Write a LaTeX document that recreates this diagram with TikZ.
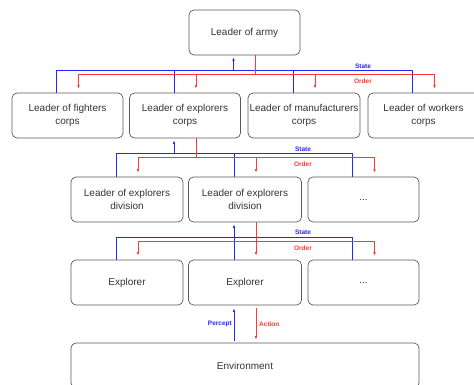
\documentclass[tikz,border=0pt]{standalone}
\usepackage{fontspec}
\setmainfont{Liberation Sans}
\usetikzlibrary{arrows.meta,calc}
\definecolor{stc}{rgb}{0.15,0.15,1}
\definecolor{odc}{rgb}{1,0.22,0.22}
\begin{document}
\begin{tikzpicture}[x=1pt,y=-1pt,
  box/.style={draw=black!65,line width=0.7pt,rounded corners=5pt,align=center,
    font=\fontsize{10}{13.5}\selectfont,text=black!80,inner sep=0pt,minimum height=45pt},
  stl/.style={draw=stc,line width=0.7pt},
  odl/.style={draw=odc,line width=0.7pt},
  tip/.style={-{Latex[length=3.5pt,width=2.6pt]}},
  tips/.style={{Latex[length=3.5pt,width=2.6pt]}-{Latex[length=3.5pt,width=2.6pt]}},
  lab/.style={font=\fontsize{6.5}{7}\selectfont\bfseries,inner sep=0pt}]
\useasboundingbox (0,0) rectangle (474,385);
\clip (0,0) rectangle (474,385);
% boxes
\node[box,minimum width=111pt] (army) at (244.5,32.5) {Leader of army};
\node[box,minimum width=111pt] (f) at (67.5,115.5) {Leader of fighters\\corps};
\node[box,minimum width=111pt] (e) at (185,115.5) {Leader of explorers\\corps};
\node[box,minimum width=112pt] (m) at (304,115.5) {Leader of manufacturers\\corps};
\node[box,minimum width=111pt] (w) at (423.5,115.5) {Leader of workers\\corps};
\node[box,minimum width=112pt] (d1) at (127,199.5) {Leader of explorers\\division};
\node[box,minimum width=113pt] (d2) at (245,199.5) {Leader of explorers\\division};
\node[box,minimum width=111pt] (d3) at (363.5,199.5) {...};
\node[box,minimum width=112pt] (x1) at (127,282.5) {Explorer};
\node[box,minimum width=113pt] (x2) at (245,282.5) {Explorer};
\node[box,minimum width=111pt] (x3) at (363.5,282.5) {...};
\node[box,minimum width=348pt] (env) at (245,365.5) {Environment};
% level 0-1
\draw[stl] ($(f.north)+(-11,0)$) |- ($(w.north)+(-11,-22)$) -- ($(w.north)+(-11,0)$);
\draw[stl] ($(e.north)+(-11,0)$) -- ++(0,-22);
\draw[stl] ($(m.north)+(-11,0)$) -- ++(0,-22);
\draw[stl,tip] ($(army.south)+(-11,16)$) -- ($(army.south)+(-11,2)$);
\draw[odl] ($(army.south)+(11,0)$) -- ++(0,20);
\draw[odl,tips] ($(f.north)+(11,-4)$) |- ($(w.north)+(11,-18)$) -- ($(w.north)+(11,-4)$);
\draw[odl,tip] ($(e.north)+(11,-18)$) -- ($(e.north)+(11,-4)$);
\draw[odl,tip] ($(m.north)+(11,-18)$) -- ($(m.north)+(11,-4)$);
\node[lab,text=stc] (s0) at (363,66) {State};
\node[lab,text=odc] (o0) at (363,81) {Order};
% level 1-2
\draw[stl] ($(d1.north)+(-11,0)$) |- ($(d3.north)+(-11,-23)$) -- ($(d3.north)+(-11,0)$);
\draw[stl] ($(d2.north)+(-11,0)$) -- ++(0,-23);
\draw[stl,tip] ($(e.south)+(-11,16)$) -- ($(e.south)+(-11,2)$);
\draw[odl] ($(e.south)+(11,0)$) -- ++(0,20);
\draw[odl,tips] ($(d1.north)+(11,-4)$) |- ($(d3.north)+(11,-19)$) -- ($(d3.north)+(11,-4)$);
\draw[odl,tip] ($(d2.north)+(11,-19)$) -- ($(d2.north)+(11,-4)$);
\node[lab,text=stc] (s1) at (303,149) {State};
\node[lab,text=odc] (o1) at (303,164) {Order};
% level 2-3
\draw[stl] ($(x1.north)+(-11,0)$) |- ($(x3.north)+(-11,-22)$) -- ($(x3.north)+(-11,0)$);
\draw[stl,tip] ($(x2.north)+(-11,0)$) -- ($(d2.south)+(-11,2)$);
\draw[odl,tip] ($(d2.south)+(11,0)$) -- ($(x2.north)+(11,-4)$);
\draw[odl,tips] ($(x1.north)+(11,-4)$) |- ($(x3.north)+(11,-18)$) -- ($(x3.north)+(11,-4)$);
\node[lab,text=stc] (s2) at (303,232) {State};
\node[lab,text=odc] (o2) at (303,248) {Order};
% environment
\draw[stl,tip] ($(env.north)+(-11,-2)$) -- ($(x2.south)+(-11,3)$);
\draw[odl,tip] ($(x2.south)+(11,3)$) -- ($(env.north)+(11,-3)$);
\node[lab,text=stc,anchor=east] (pc) at (232,324) {Percept};
\node[lab,text=odc,anchor=west] (ac) at (259,324) {Action};
\end{tikzpicture}
\end{document}
